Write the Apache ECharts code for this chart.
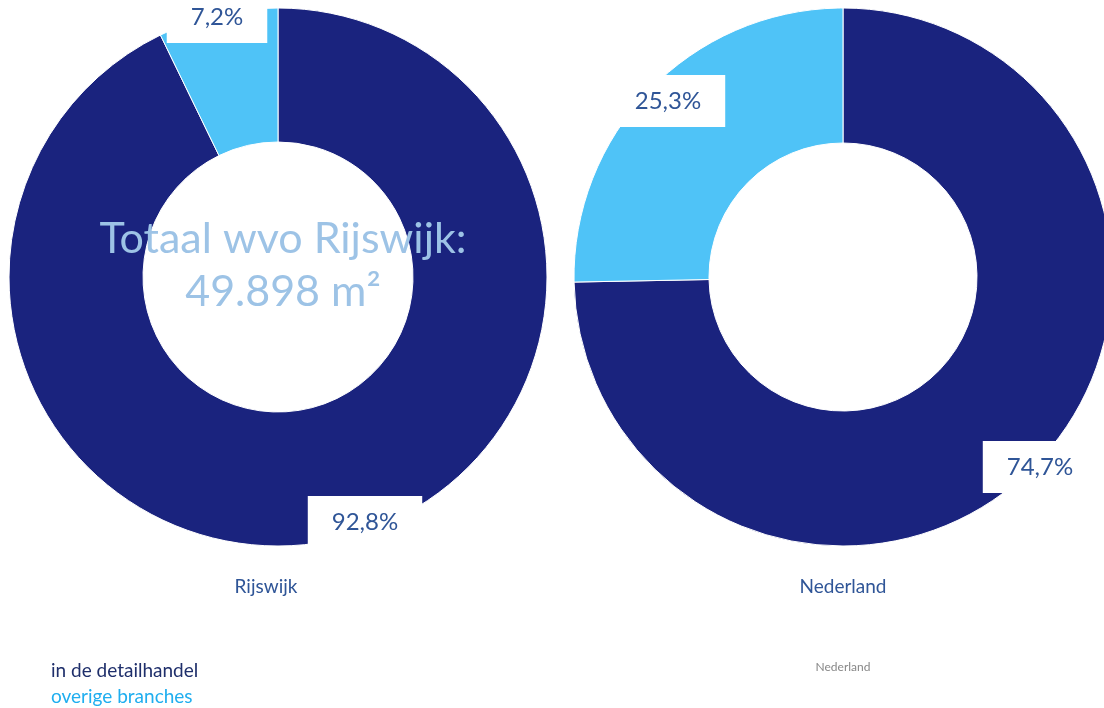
<!DOCTYPE html>
<html>
<head>
<meta charset="utf-8">
<script src="https://cdn.jsdelivr.net/npm/echarts@6/dist/echarts.min.js"></script>
<style>html,body{margin:0;padding:0;background:#fff;}#c{width:1104px;height:708px;}</style>
</head>
<body>
<div id="c"></div>
<script>
const categories = ['in de detailhandel', 'overige branches'];
const regions = ['Rijswijk', 'Nederland'];
const rijswijkValues = [92.8, 7.2];
const nederlandValues = [74.7, 25.3];
const centerLines = ['Totaal wvo Rijswijk:', '49.898 m²'];

const colors = ['#1A237E', '#4FC3F7'];
const FONT = 'Lato, "Open Sans", sans-serif';

// label anchor positions (pixels) per series / data index
const labelPos = [
  [[365, 522], [217, 17]],
  [[1040, 467], [668, 101]]
];

function makeSeries(idx, values, center, radius) {
  return {
    type: 'pie',
    name: regions[idx],
    center: center,
    radius: radius,
    startAngle: 90,
    clockwise: true,
    avoidLabelOverlap: false,
    itemStyle: { borderColor: '#ffffff', borderWidth: 1 },
    label: {
      show: true,
      position: 'inside',
      formatter: p => p.value.toFixed(1).replace('.', ',') + '%',
      color: '#2F5597',
      fontFamily: FONT,
      fontSize: 24,
      backgroundColor: '#ffffff',
      padding: [14, 24]
    },
    labelLine: { show: false },
    labelLayout: p => ({
      x: labelPos[idx][p.dataIndex][0],
      y: labelPos[idx][p.dataIndex][1],
      align: 'center',
      verticalAlign: 'middle'
    }),
    emphasis: { disabled: true },
    data: categories.map((c, i) => ({ name: c, value: values[i], itemStyle: { color: colors[i] } }))
  };
}

const chart = echarts.init(document.getElementById('c'));
chart.setOption({
  animation: false,
  title: [
    { text: regions[0], left: 266, top: 577, textAlign: 'center', padding: 0,
      textStyle: { color: '#2F5597', fontFamily: FONT, fontSize: 19, fontWeight: 'normal' } },
    { text: regions[1], left: 843, top: 577, textAlign: 'center', padding: 0,
      textStyle: { color: '#2F5597', fontFamily: FONT, fontSize: 19, fontWeight: 'normal' } },
    { text: regions[1], left: 843, top: 661, textAlign: 'center', padding: 0,
      textStyle: { color: '#888888', fontFamily: FONT, fontSize: 12, fontWeight: 'normal' } },
    { text: centerLines.join('\n'), left: 283, top: 213, textAlign: 'center', padding: 0,
      textStyle: { color: '#9DC3E6', fontFamily: FONT, fontSize: 43, fontWeight: 'normal', lineHeight: 53 } }
  ],
  legend: {
    orient: 'vertical',
    left: 45,
    top: 659,
    padding: 0,
    icon: 'rect',
    itemWidth: 0,
    itemHeight: 0,
    itemGap: 3,
    selectedMode: false,
    textStyle: { fontFamily: FONT, fontSize: 19, lineHeight: 23 },
    data: [
      { name: categories[0], textStyle: { color: '#1F2F6B' } },
      { name: categories[1], textStyle: { color: '#1FAEEF' } }
    ]
  },
  series: [
    makeSeries(0, rijswijkValues, [278, 277], [135, 269]),
    makeSeries(1, nederlandValues, [843, 277], [134, 269])
  ]
});
</script>
</body>
</html>
